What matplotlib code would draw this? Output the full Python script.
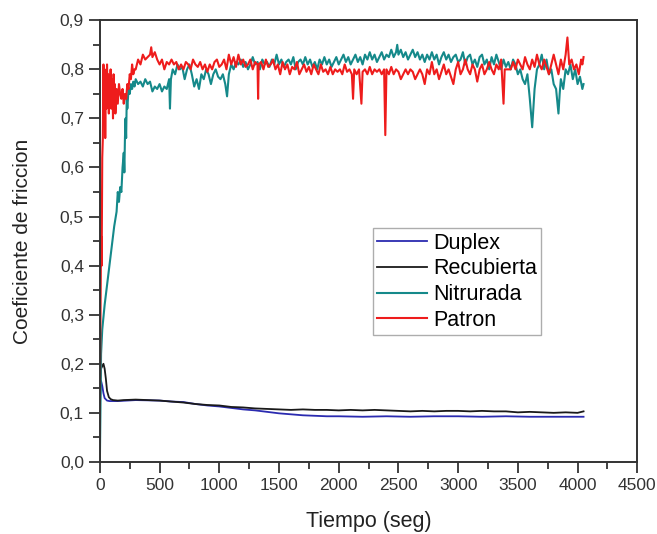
import matplotlib
matplotlib.use('Agg')
import matplotlib.pyplot as plt
from matplotlib.ticker import MultipleLocator, FuncFormatter

plt.rcParams['font.family'] = ['Liberation Sans', 'DejaVu Sans']

# (tiempo [s], coeficiente)
duplex = [(0, 0.10), (5, 0.16), (10, 0.165), (20, 0.155), (30, 0.14), (40, 0.13),
          (60, 0.125), (80, 0.124), (150, 0.124), (300, 0.126), (500, 0.125),
          (600, 0.123), (700, 0.122), (800, 0.118), (900, 0.115), (1000, 0.113),
          (1100, 0.110), (1200, 0.107), (1300, 0.105), (1400, 0.102), (1500, 0.099),
          (1600, 0.097), (1700, 0.095), (1800, 0.094), (1900, 0.093), (2000, 0.093),
          (2200, 0.092), (2400, 0.093), (2600, 0.092), (2800, 0.093), (3000, 0.093),
          (3200, 0.092), (3400, 0.093), (3600, 0.092), (3800, 0.092), (4050, 0.092)]

recubierta = [(0, 0.10), (5, 0.17), (10, 0.19), (20, 0.195), (30, 0.20), (40, 0.19),
              (50, 0.17), (60, 0.145), (75, 0.132), (90, 0.128), (110, 0.126),
              (150, 0.125), (200, 0.126), (300, 0.127), (400, 0.126), (500, 0.125),
              (600, 0.123), (700, 0.121), (800, 0.118), (900, 0.116), (1000, 0.115),
              (1100, 0.112), (1200, 0.111), (1300, 0.109), (1400, 0.108), (1500, 0.107),
              (1600, 0.106), (1700, 0.107), (1800, 0.106), (1900, 0.106), (2000, 0.105),
              (2100, 0.106), (2200, 0.105), (2300, 0.106), (2400, 0.105), (2500, 0.104),
              (2600, 0.103), (2700, 0.104), (2800, 0.103), (2900, 0.104), (3000, 0.104),
              (3100, 0.103), (3200, 0.104), (3300, 0.103), (3400, 0.103), (3500, 0.101),
              (3600, 0.102), (3700, 0.101), (3800, 0.100), (3900, 0.101), (4000, 0.100),
              (4050, 0.103)]

nitrurada = [(0, 0.0), (10, 0.22), (20, 0.27), (40, 0.32), (60, 0.36), (80, 0.40),
             (100, 0.44), (120, 0.48), (140, 0.51), (150, 0.55), (160, 0.53), (170, 0.56),
             (180, 0.55), (190, 0.60), (200, 0.63), (205, 0.59), (210, 0.66), (215, 0.70),
             (220, 0.66), (225, 0.74), (230, 0.72), (240, 0.76), (250, 0.75), (260, 0.77),
             (270, 0.76), (280, 0.775), (290, 0.765), (300, 0.78), (320, 0.77),
             (340, 0.775), (360, 0.765), (380, 0.78), (400, 0.77), (420, 0.775),
             (440, 0.755), (460, 0.765), (480, 0.76), (500, 0.77), (520, 0.755),
             (540, 0.765), (560, 0.76), (580, 0.78), (587, 0.72), (595, 0.78), (610, 0.80),
             (630, 0.79), (650, 0.81), (670, 0.80), (690, 0.805), (710, 0.78), (730, 0.80),
             (750, 0.81), (770, 0.79), (790, 0.765), (810, 0.78), (830, 0.76), (850, 0.79),
             (870, 0.78), (890, 0.80), (910, 0.79), (930, 0.77), (950, 0.79), (970, 0.80),
             (990, 0.785), (1010, 0.78), (1030, 0.79), (1050, 0.77), (1065, 0.745),
             (1080, 0.79), (1100, 0.81), (1120, 0.80), (1140, 0.815), (1160, 0.81),
             (1180, 0.82), (1200, 0.805), (1220, 0.815), (1240, 0.80), (1260, 0.81),
             (1280, 0.825), (1300, 0.81), (1320, 0.815), (1340, 0.80), (1360, 0.82),
             (1380, 0.81), (1400, 0.815), (1420, 0.805), (1440, 0.82), (1460, 0.81),
             (1480, 0.83), (1500, 0.81), (1520, 0.82), (1540, 0.805), (1560, 0.815),
             (1580, 0.82), (1600, 0.81), (1620, 0.825), (1640, 0.80), (1660, 0.815),
             (1680, 0.82), (1700, 0.81), (1720, 0.825), (1740, 0.81), (1760, 0.82),
             (1780, 0.805), (1800, 0.815), (1820, 0.80), (1840, 0.82), (1860, 0.81),
             (1880, 0.825), (1900, 0.81), (1920, 0.82), (1940, 0.805), (1960, 0.815),
             (1980, 0.825), (2000, 0.81), (2020, 0.82), (2040, 0.83), (2060, 0.815),
             (2080, 0.825), (2100, 0.81), (2120, 0.82), (2140, 0.83), (2160, 0.815),
             (2180, 0.825), (2200, 0.81), (2220, 0.83), (2240, 0.82), (2260, 0.835),
             (2280, 0.82), (2300, 0.83), (2320, 0.815), (2340, 0.825), (2360, 0.835),
             (2380, 0.82), (2400, 0.83), (2420, 0.825), (2440, 0.84), (2460, 0.825),
             (2480, 0.835), (2490, 0.85), (2500, 0.83), (2520, 0.84), (2540, 0.825),
             (2560, 0.835), (2580, 0.82), (2600, 0.83), (2620, 0.84), (2640, 0.825),
             (2660, 0.835), (2680, 0.82), (2700, 0.83), (2720, 0.815), (2740, 0.83),
             (2760, 0.82), (2780, 0.835), (2800, 0.82), (2820, 0.83), (2840, 0.81),
             (2860, 0.825), (2880, 0.835), (2900, 0.82), (2920, 0.83), (2940, 0.815),
             (2960, 0.825), (2980, 0.83), (3000, 0.815), (3020, 0.82), (3040, 0.835),
             (3060, 0.81), (3080, 0.825), (3100, 0.83), (3120, 0.81), (3140, 0.82),
             (3160, 0.805), (3180, 0.825), (3200, 0.83), (3220, 0.81), (3240, 0.82),
             (3260, 0.80), (3280, 0.825), (3300, 0.81), (3320, 0.83), (3340, 0.815),
             (3360, 0.80), (3380, 0.82), (3400, 0.805), (3420, 0.815), (3440, 0.80),
             (3460, 0.82), (3480, 0.81), (3500, 0.79), (3520, 0.80), (3540, 0.78),
             (3560, 0.77), (3580, 0.79), (3600, 0.74), (3620, 0.682), (3630, 0.72),
             (3640, 0.76), (3660, 0.80), (3680, 0.81), (3700, 0.83), (3720, 0.80),
             (3740, 0.82), (3760, 0.79), (3780, 0.80), (3800, 0.77), (3820, 0.76),
             (3840, 0.71), (3850, 0.75), (3860, 0.78), (3880, 0.76), (3900, 0.80),
             (3920, 0.79), (3940, 0.81), (3960, 0.78), (3980, 0.80), (4000, 0.77),
             (4020, 0.785), (4040, 0.76), (4050, 0.77)]

patron = [(0, 0.12), (5, 0.30), (10, 0.46), (15, 0.40), (20, 0.62), (25, 0.66),
          (30, 0.81), (35, 0.70), (40, 0.80), (45, 0.66), (50, 0.78), (55, 0.72),
          (60, 0.81), (65, 0.74), (70, 0.79), (75, 0.71), (80, 0.77), (85, 0.75),
          (90, 0.80), (95, 0.72), (100, 0.78), (105, 0.76), (110, 0.70), (115, 0.79),
          (120, 0.74), (125, 0.77), (130, 0.71), (140, 0.76), (150, 0.73), (160, 0.77),
          (170, 0.75), (180, 0.74), (190, 0.76), (200, 0.73), (210, 0.75), (220, 0.74),
          (230, 0.77), (240, 0.76), (250, 0.79), (260, 0.78), (270, 0.81), (280, 0.79),
          (290, 0.80), (300, 0.80), (320, 0.82), (340, 0.81), (360, 0.83), (380, 0.82),
          (400, 0.825), (420, 0.83), (430, 0.845), (440, 0.825), (460, 0.835),
          (480, 0.82), (500, 0.81), (520, 0.82), (540, 0.80), (560, 0.815), (580, 0.81),
          (600, 0.82), (620, 0.81), (640, 0.815), (660, 0.80), (680, 0.81), (700, 0.80),
          (720, 0.815), (740, 0.81), (760, 0.80), (780, 0.82), (800, 0.81), (820, 0.805),
          (840, 0.815), (860, 0.80), (880, 0.81), (900, 0.795), (920, 0.81), (940, 0.80),
          (960, 0.815), (980, 0.82), (1000, 0.805), (1020, 0.81), (1040, 0.82),
          (1060, 0.80), (1080, 0.83), (1100, 0.81), (1120, 0.825), (1140, 0.805),
          (1160, 0.83), (1180, 0.81), (1200, 0.82), (1220, 0.805), (1240, 0.81),
          (1260, 0.82), (1280, 0.80), (1300, 0.815), (1320, 0.81), (1325, 0.74),
          (1330, 0.81), (1350, 0.815), (1370, 0.80), (1390, 0.82), (1410, 0.805),
          (1430, 0.81), (1450, 0.82), (1470, 0.80), (1490, 0.81), (1510, 0.79),
          (1530, 0.815), (1550, 0.80), (1570, 0.81), (1590, 0.79), (1610, 0.805),
          (1630, 0.80), (1650, 0.815), (1670, 0.79), (1690, 0.80), (1710, 0.81),
          (1730, 0.795), (1750, 0.805), (1770, 0.79), (1790, 0.81), (1810, 0.80),
          (1830, 0.79), (1850, 0.81), (1870, 0.795), (1890, 0.80), (1910, 0.79),
          (1930, 0.805), (1950, 0.79), (1970, 0.80), (1990, 0.795), (2010, 0.80),
          (2030, 0.79), (2050, 0.81), (2070, 0.795), (2090, 0.80), (2110, 0.79),
          (2120, 0.74), (2130, 0.80), (2150, 0.79), (2170, 0.80), (2190, 0.73),
          (2200, 0.795), (2220, 0.80), (2240, 0.79), (2260, 0.805), (2280, 0.79),
          (2300, 0.80), (2320, 0.795), (2340, 0.80), (2360, 0.79), (2380, 0.80),
          (2390, 0.666), (2400, 0.80), (2420, 0.79), (2440, 0.805), (2460, 0.79),
          (2480, 0.80), (2500, 0.795), (2520, 0.78), (2540, 0.79), (2560, 0.80),
          (2580, 0.79), (2600, 0.80), (2620, 0.795), (2640, 0.78), (2660, 0.79),
          (2680, 0.80), (2700, 0.79), (2720, 0.77), (2740, 0.80), (2760, 0.79),
          (2780, 0.815), (2800, 0.79), (2820, 0.80), (2840, 0.78), (2860, 0.795),
          (2880, 0.81), (2900, 0.79), (2920, 0.80), (2940, 0.785), (2960, 0.77),
          (2980, 0.80), (3000, 0.815), (3020, 0.79), (3040, 0.80), (3060, 0.82),
          (3080, 0.80), (3100, 0.79), (3120, 0.81), (3140, 0.80), (3160, 0.775),
          (3180, 0.80), (3200, 0.81), (3220, 0.79), (3240, 0.80), (3260, 0.815),
          (3280, 0.80), (3300, 0.79), (3320, 0.81), (3340, 0.80), (3360, 0.82),
          (3380, 0.73), (3390, 0.80), (3420, 0.80), (3440, 0.80), (3460, 0.815),
          (3480, 0.80), (3500, 0.82), (3520, 0.81), (3540, 0.80), (3560, 0.825),
          (3580, 0.81), (3600, 0.80), (3620, 0.82), (3640, 0.805), (3660, 0.83),
          (3680, 0.81), (3700, 0.80), (3720, 0.82), (3740, 0.805), (3760, 0.79),
          (3780, 0.81), (3800, 0.83), (3820, 0.81), (3840, 0.79), (3860, 0.82),
          (3880, 0.80), (3900, 0.83), (3915, 0.865), (3930, 0.81), (3950, 0.82),
          (3970, 0.80), (3990, 0.81), (4010, 0.79), (4030, 0.82), (4040, 0.81),
          (4050, 0.825)]

series = [('Duplex', duplex, '#2b2bb0', 1.3),
          ('Recubierta', recubierta, '#1a1a1a', 1.3),
          ('Nitrurada', nitrurada, '#15898a', 1.5),
          ('Patron', patron, '#ee1c1c', 1.5)]

fig = plt.figure(figsize=(6.57, 5.34), dpi=100, facecolor='w')
ax = fig.add_axes([0.152, 0.135, 0.818, 0.827])

for name, pts, col, lw in series:
    t, v = zip(*pts)
    ax.plot(t, v, color=col, lw=lw, label=name)

ax.set_xlim(0, 4500)
ax.set_ylim(0, 0.9)
ax.xaxis.set_major_locator(MultipleLocator(500))
ax.xaxis.set_minor_locator(MultipleLocator(250))
ax.yaxis.set_major_locator(MultipleLocator(0.1))
ax.yaxis.set_minor_locator(MultipleLocator(0.05))
ax.yaxis.set_major_formatter(FuncFormatter(lambda v, p: ('%.1f' % v).replace('.', ',')))

ax.tick_params(which='both', direction='out', top=False, right=False, width=1.3,
               color='#333333', labelsize=12.5, labelcolor='#333333')
ax.tick_params(which='major', length=8)
ax.tick_params(which='minor', length=5)
for s in ax.spines.values():
    s.set_linewidth(1.4)
    s.set_color('#333333')

ax.set_xlabel('Tiempo (seg)', fontsize=15.5, color='#222222', labelpad=13)
ax.set_ylabel('Coeficiente de friccion', fontsize=15, color='#222222', labelpad=20)

leg = ax.legend(loc='upper left', bbox_to_anchor=(0.508, 0.529), fontsize=15.5,
                frameon=True, fancybox=False, borderpad=0.2, labelspacing=0.22,
                handlelength=2.3, handletextpad=0.3, borderaxespad=0)
leg.get_frame().set_edgecolor('#999999')
leg.get_frame().set_linewidth(1.0)

plt.savefig('out.png', dpi=100)
